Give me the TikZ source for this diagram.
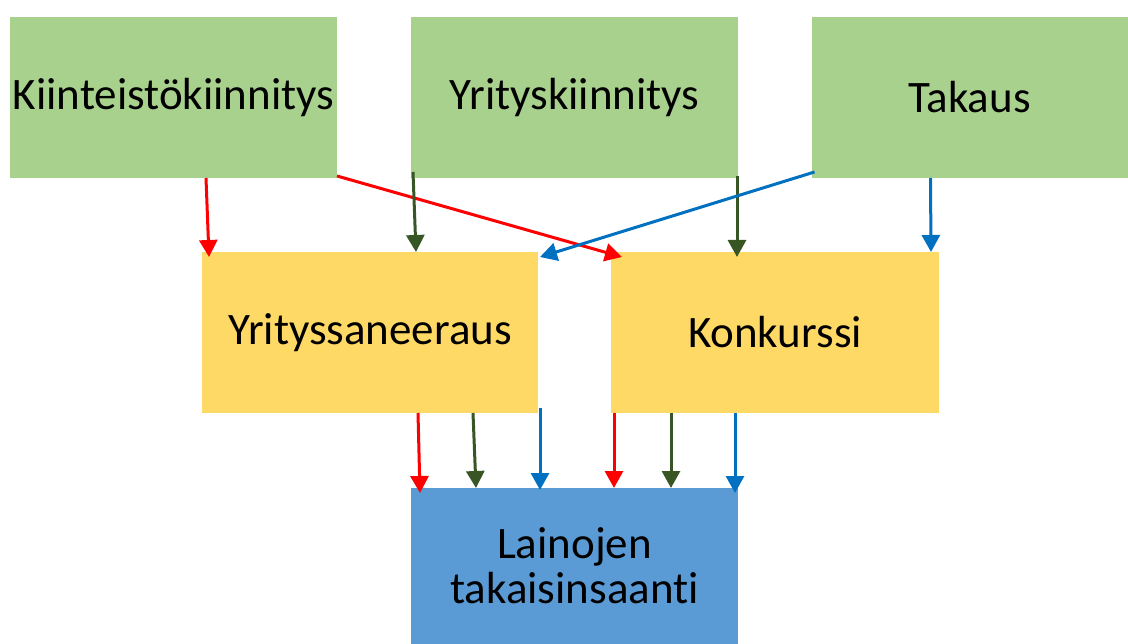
\documentclass[tikz,border=0pt]{standalone}
\usepackage{fontspec}
\setmainfont{Carlito}[Ligatures=CommonOff]
\usetikzlibrary{arrows.meta,calc}
\definecolor{boxgreen}{HTML}{A9D18E}
\definecolor{boxyellow}{HTML}{FFD966}
\definecolor{boxblue}{HTML}{5B9BD5}
\definecolor{arred}{HTML}{FF0000}
\definecolor{argreen}{HTML}{375623}
\definecolor{arblue}{HTML}{0070C0}
\tikzset{
  box/.style={inner sep=0pt, outer sep=0pt, align=center, font=\fontsize{45}{45}\selectfont, text=black},
  gbox/.style={box, fill=boxgreen, minimum height=161pt},
  ybox/.style={box, fill=boxyellow, minimum height=161pt},
  bbox/.style={box, fill=boxblue, minimum height=156pt},
  conn/.style={line width=3pt, -{Triangle[width=18pt,length=17pt]}},
  rconn/.style={conn, arred},
  gconn/.style={conn, argreen},
  bconn/.style={conn, arblue},
}
\begin{document}
\begin{tikzpicture}[x=1pt,y=-1pt]
\useasboundingbox (0,0) rectangle (1128,644);
\node[gbox, minimum width=327pt] (kii) at (173.5,97.5) {Kiinteistökiinnitys};
\node[gbox, minimum width=327pt] (yk) at (574.5,97.5) {Yrityskiinnitys};
\node[gbox, minimum width=316pt] (tak) at (969.5,97.5) {Takaus};
\node[ybox, minimum width=336pt] (ys) at (370,332.5) {Yrityssaneeraus};
\node[ybox, minimum width=328pt] (kon) at (775,332.5) {Konkurssi};
\node[bbox, minimum width=327pt] (lai) at (574.5,566) {Lainojen\\takaisinsaanti};
% top to middle
\draw[rconn] ([xshift=196pt]kii.south west) -- ([xshift=7pt,yshift=-5pt]ys.north west);
\draw[rconn] ([yshift=2pt]kii.south east) -- ([xshift=11pt,yshift=-5pt]kon.north west);
\draw[gconn] ([xshift=2pt,yshift=6pt]yk.south west) -- ([xshift=214pt]ys.north west);
\draw[gconn] ([xshift=-1pt,yshift=2pt]yk.south east) -- ([xshift=126pt,yshift=-5pt]kon.north west);
\draw[bconn] ([xshift=3pt,yshift=6pt]tak.south west) -- ([xshift=2pt,yshift=-5pt]ys.north east);
\draw[bconn] ([xshift=119pt]tak.south west) -- ([xshift=320pt]kon.north west);
% middle to bottom
\draw[rconn] ([xshift=216pt]ys.south west) -- ([xshift=9pt,yshift=-5pt]lai.north west);
\draw[gconn] ([xshift=271pt]ys.south west) -- ([xshift=65pt]lai.north west);
\draw[bconn] ([xshift=2pt,yshift=5pt]ys.south east) -- ([xshift=129pt,yshift=-2pt]lai.north west);
\draw[rconn] ([xshift=3pt]kon.south west) -- ([xshift=203pt]lai.north west);
\draw[gconn] ([xshift=60pt]kon.south west) -- ([xshift=260pt]lai.north west);
\draw[bconn] ([xshift=124pt]kon.south west) -- ([xshift=324pt,yshift=-5pt]lai.north west);
\end{tikzpicture}
\end{document}
